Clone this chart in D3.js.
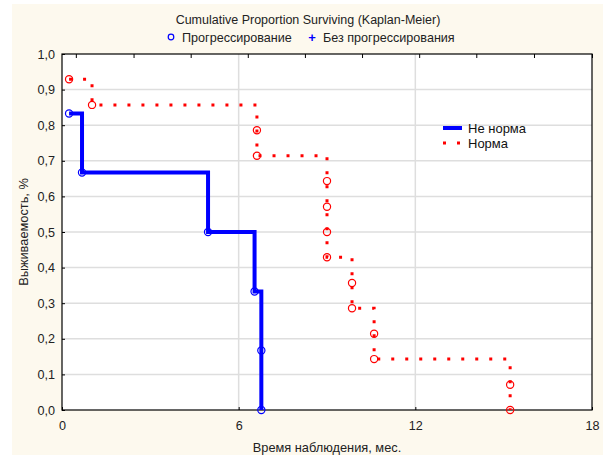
<!DOCTYPE html>
<html>
<head>
<meta charset="utf-8">
<script src="https://cdn.jsdelivr.net/npm/d3@7"></script>
<style>
  body { margin: 0; background: #fff; }
  svg { display: block; font-family: "Liberation Sans", Arial, sans-serif; }
  .axis path { display: none; }
  .axis line { stroke: #000; }
  .axis text { font-size: 12.6px; fill: #222; }
</style>
</head>
<body>
<svg id="chart" width="608" height="456"></svg>
<script>
// Kaplan-Meier: время события (мес.) и доля выживших после события
var blueTime = [0.24, 0.68, 4.96, 6.54, 6.77, 6.77];
var blueSurv = [0.833, 0.667, 0.500, 0.333, 0.167, 0.000];
var redTime = [0.24, 1.02, 6.62, 6.62, 9.0, 9.0, 9.0, 9.0, 9.85, 9.85, 10.6, 10.6, 15.22, 15.22];
var redSurv = [0.929, 0.857, 0.786, 0.714, 0.643, 0.571, 0.500, 0.429, 0.357, 0.286, 0.214, 0.143, 0.071, 0.000];

var xTicks = [0, 6, 12, 18];
var yTicks = [0, 0.1, 0.2, 0.3, 0.4, 0.5, 0.6, 0.7, 0.8, 0.9, 1.0];
var topTicks = [0.47, 2.43, 4.37, 6.31, 8.25, 10.19, 12.13, 14.07, 16.03, 18];

var seriesNames = ["Не норма", "Норма"];
var legendTop = ["Прогрессирование", "Без прогрессирования"];

var svg = d3.select("#chart"),
    margin = {top: 54, right: 16, bottom: 46, left: 62},
    width = +svg.attr("width") - margin.left - margin.right,
    height = +svg.attr("height") - margin.top - margin.bottom;

// cream background
svg.append("rect")
    .attr("x", 12).attr("y", 4)
    .attr("width", 591).attr("height", 451)
    .attr("fill", "#fdf9ee");

var g = svg.append("g").attr("transform", "translate(" + margin.left + "," + margin.top + ")");

var x = d3.scaleLinear().domain([0, 18]).range([0, width]);
var y = d3.scaleLinear().domain([0, 1]).range([height, 0]);

g.append("rect")
    .attr("width", width).attr("height", height)
    .attr("fill", "#fff");

// grid
g.append("g").selectAll("line")
    .data(yTicks.slice(1, -1))
  .enter().append("line")
    .attr("x1", 0).attr("x2", width)
    .attr("y1", function(d) { return y(d); })
    .attr("y2", function(d) { return y(d); })
    .attr("stroke", "#dedede").attr("stroke-width", 1.5);
g.append("g").selectAll("line")
    .data(xTicks.slice(1, -1))
  .enter().append("line")
    .attr("y1", 0).attr("y2", height)
    .attr("x1", function(d) { return x(d); })
    .attr("x2", function(d) { return x(d); })
    .attr("stroke", "#dedede").attr("stroke-width", 1.5);

var fmt = function(d) { return d.toFixed(1).replace(".", ","); };

g.append("g")
    .attr("class", "axis")
    .call(d3.axisLeft(y).tickValues(yTicks).tickSize(-3).tickPadding(7).tickFormat(fmt));

g.append("g")
    .attr("class", "axis")
    .attr("transform", "translate(0," + height + ")")
    .call(d3.axisBottom(x).tickValues(xTicks).tickSize(-3).tickPadding(11).tickFormat(d3.format("d")));

g.append("g")
    .attr("class", "axis")
    .call(d3.axisTop(x).tickValues(topTicks).tickSize(-4).tickFormat(""));

// frame
g.append("rect")
    .attr("width", width).attr("height", height)
    .attr("fill", "none").attr("stroke", "#000").attr("stroke-width", 1.2);

var line = d3.line()
    .x(function(d) { return x(d[0]); })
    .y(function(d) { return y(d[1]); })
    .curve(d3.curveStepAfter);

var blue = blueTime.map(function(t, i) { return [t, blueSurv[i]]; });
var red = redTime.map(function(t, i) { return [t, redSurv[i]]; });

g.append("path")
    .datum(red)
    .attr("d", line)
    .attr("fill", "none")
    .attr("stroke", "#ff0000")
    .attr("stroke-width", 3)
    .attr("stroke-dasharray", "3,11");

g.append("path")
    .datum(blue)
    .attr("d", line)
    .attr("fill", "none")
    .attr("stroke", "#0000ff")
    .attr("stroke-width", 4);

g.append("g").selectAll("circle")
    .data(red)
  .enter().append("circle")
    .attr("cx", function(d) { return x(d[0]); })
    .attr("cy", function(d) { return y(d[1]); })
    .attr("r", 3.6)
    .attr("fill", "none").attr("stroke", "#ff0000").attr("stroke-width", 1.2);

g.append("g").selectAll("circle")
    .data(blue)
  .enter().append("circle")
    .attr("cx", function(d) { return x(d[0]); })
    .attr("cy", function(d) { return y(d[1]); })
    .attr("r", 3.6)
    .attr("fill", "none").attr("stroke", "#0000ff").attr("stroke-width", 1.2);

// legend inside plot
var lg = svg.append("g").attr("transform", "translate(443,128)");
lg.append("line").attr("x1", 0).attr("x2", 19).attr("y1", 0).attr("y2", 0)
    .attr("stroke", "#0000ff").attr("stroke-width", 4);
lg.append("line").attr("x1", 0).attr("x2", 19).attr("y1", 15).attr("y2", 15)
    .attr("stroke", "#ff0000").attr("stroke-width", 3).attr("stroke-dasharray", "3,11");
lg.selectAll("text")
    .data(seriesNames)
  .enter().append("text")
    .attr("x", 25)
    .attr("y", function(d, i) { return i * 15 + 4.5; })
    .attr("font-size", "13px")
    .attr("fill", "#111")
    .text(function(d) { return d; });

// title and top legend
svg.append("text")
    .attr("x", 308).attr("y", 24)
    .attr("text-anchor", "middle")
    .attr("font-size", "12.5px")
    .attr("fill", "#222")
    .text("Cumulative Proportion Surviving (Kaplan-Meier)");

svg.append("circle")
    .attr("cx", 171).attr("cy", 37).attr("r", 2.8)
    .attr("fill", "none").attr("stroke", "#0000ff").attr("stroke-width", 1.2);
svg.append("text")
    .attr("x", 182).attr("y", 41.5)
    .attr("font-size", "12.6px").attr("fill", "#222")
    .text(legendTop[0]);
svg.append("text")
    .attr("x", 312).attr("y", 42)
    .attr("text-anchor", "middle")
    .attr("font-size", "13px").attr("font-weight", "bold").attr("fill", "#0000ff")
    .text("+");
svg.append("text")
    .attr("x", 323).attr("y", 41.5)
    .attr("font-size", "12.6px").attr("fill", "#222")
    .text(legendTop[1]);

// axis titles
svg.append("text")
    .attr("x", margin.left + width / 2).attr("y", 452)
    .attr("text-anchor", "middle")
    .attr("font-size", "12.8px").attr("fill", "#222")
    .text("Время наблюдения, мес.");

svg.append("text")
    .attr("transform", "translate(28," + (margin.top + height / 2) + ") rotate(-90)")
    .attr("text-anchor", "middle")
    .attr("font-size", "12.8px").attr("fill", "#222")
    .text("Выживаемость, %");
</script>
</body>
</html>
